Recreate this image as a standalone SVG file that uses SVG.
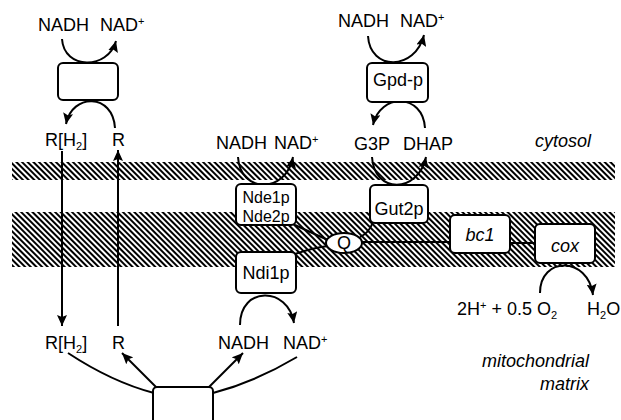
<svg xmlns="http://www.w3.org/2000/svg" width="621" height="420" viewBox="0 0 621 420">
<defs>
<pattern id="hatch" width="4" height="4" patternUnits="userSpaceOnUse" patternTransform="rotate(-45)">
<rect width="4" height="4" fill="#fff"/>
<rect x="0" y="0" width="2" height="4" fill="#000"/>
</pattern>
<marker id="ah" markerUnits="userSpaceOnUse" markerWidth="12" markerHeight="10" refX="11" refY="5" orient="auto">
<path d="M0,0 L11,5 L0,10 L2,5 z" fill="#000"/>
</marker>
</defs>
<style>
text{font-family:"Liberation Sans",Arial,sans-serif;font-size:18px;fill:#000}
.it{font-style:italic}
.c{text-anchor:middle}
.box{fill:#fff;stroke:#000;stroke-width:2}
.ln{fill:none;stroke:#000;stroke-width:2}
.sup{font-size:11px}
</style>
<rect width="621" height="420" fill="#fff"/>
<g id="membranes">
<rect x="12" y="162" width="603" height="18" fill="url(#hatch)"/>
<rect x="12" y="212" width="603" height="55" fill="url(#hatch)"/>
</g>
<g id="connectors">
<path class="ln" d="M62,39 C64,70 108,70 116,41" marker-end="url(#ah)"/>
<path class="ln" d="M115,128 C113,93 72,93 66,124" marker-end="url(#ah)"/>
<path class="ln" d="M62,151 L62,326" marker-end="url(#ah)"/>
<path class="ln" d="M118,326 L118,150" marker-end="url(#ah)"/>
<path class="ln" d="M368,36 C370,71 415,71 424,35" marker-end="url(#ah)"/>
<path class="ln" d="M425,128 C423,93 380,93 373,125" marker-end="url(#ah)"/>
<path class="ln" d="M372,157 C374,194 418,194 426,157" marker-end="url(#ah)"/>
<path class="ln" d="M238,157 C240,194 286,194 293,157" marker-end="url(#ah)"/>
<path class="ln" d="M240,325 C240,286 288,286 294,323" marker-end="url(#ah)"/>
<path class="ln" d="M540,293 C540,256 588,256 593,295" marker-end="url(#ah)"/>
<path class="ln" d="M295,225 Q312,233 328,240"/>
<path class="ln" d="M295,254 Q312,248 328,246"/>
<path class="ln" d="M360,237 Q369,233 373,222"/>
<path class="ln" d="M362,242 L450,242"/>
<path class="ln" d="M510,243 L535,243"/>
<path class="ln" d="M68,353 Q112,382 154,393"/>
<path class="ln" d="M213,393 Q255,382 297,357"/>
<path class="ln" d="M157,388 L122,353" marker-end="url(#ah)"/>
<path class="ln" d="M208,388 L243,353" marker-end="url(#ah)"/>
</g>
<g id="box-left"><rect class="box" x="58" y="63" width="60" height="37" rx="5"/></g>
<g id="gpd"><rect class="box" x="367" y="63" width="61" height="39" rx="5"/><text class="c" x="398" y="86">Gpd-p</text></g>
<g id="nde"><rect class="box" x="236" y="184" width="60" height="41" rx="5"/><text class="c" x="266" y="203" style="font-size:16px">Nde1p</text><text class="c" x="266" y="222" style="font-size:16px">Nde2p</text></g>
<g id="gut2p"><rect class="box" x="370" y="185" width="58" height="38" rx="5"/><text class="c" x="399" y="215">Gut2p</text></g>
<g id="ndi1p"><rect class="box" x="236" y="252" width="60" height="41" rx="5"/><text class="c" x="266" y="279">Ndi1p</text></g>
<g id="q"><ellipse class="box" cx="344" cy="243" rx="18" ry="10"/><text class="c" x="344" y="249">Q</text></g>
<g id="bc1"><rect class="box" x="450" y="215" width="60" height="38" rx="5"/><text class="c it" x="480" y="241">bc1</text></g>
<g id="cox"><rect class="box" x="535" y="224" width="60" height="39" rx="5"/><text class="c it" x="565" y="252">cox</text></g>
<g id="box-bottom"><rect class="box" x="153" y="387" width="60" height="50" rx="4"/></g>
<g id="labels">
<text x="38" y="31">NADH</text>
<text x="100" y="31">NAD<tspan class="sup" dy="-6">+</tspan></text>
<text x="338" y="27">NADH</text>
<text x="400" y="27">NAD<tspan class="sup" dy="-6">+</tspan></text>
<text x="45" y="146">R[H<tspan class="sup" dy="4">2</tspan><tspan dy="-4">]</tspan></text>
<text x="112" y="146">R</text>
<text x="216" y="149">NADH</text>
<text x="274" y="149">NAD<tspan class="sup" dy="-6">+</tspan></text>
<text x="354" y="150">G3P</text>
<text x="403" y="150">DHAP</text>
<text class="it" x="535" y="147">cytosol</text>
<text x="45" y="349">R[H<tspan class="sup" dy="4">2</tspan><tspan dy="-4">]</tspan></text>
<text x="112" y="349">R</text>
<text x="218" y="349">NADH</text>
<text x="283" y="349">NAD<tspan class="sup" dy="-6">+</tspan></text>
<text x="457" y="315">2H<tspan class="sup" dy="-6">+</tspan><tspan dy="6"> + 0.5 O</tspan><tspan class="sup" dy="4">2</tspan></text>
<text x="587" y="315">H<tspan class="sup" dy="4">2</tspan><tspan dy="-4">O</tspan></text>
<text class="it" x="589" y="367" text-anchor="end">mitochondrial</text>
<text class="it" x="589" y="390" text-anchor="end">matrix</text>
</g>
</svg>
